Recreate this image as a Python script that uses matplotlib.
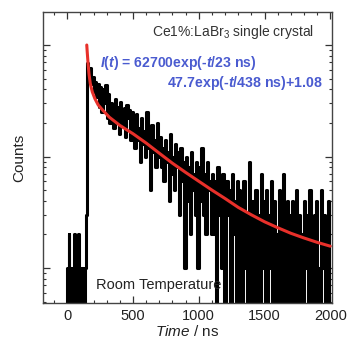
import numpy as np
import matplotlib
matplotlib.use("Agg")
import matplotlib.pyplot as plt
from matplotlib.ticker import MultipleLocator, LogLocator, NullFormatter

plt.rcParams['font.family'] = ['Liberation Sans', 'DejaVu Sans']
plt.rcParams['mathtext.fontset'] = 'custom'
plt.rcParams['mathtext.rm'] = 'Liberation Sans'
plt.rcParams['mathtext.it'] = 'Liberation Sans:italic'
plt.rcParams['mathtext.bf'] = 'Liberation Sans:bold'
plt.rcParams['mathtext.bfit'] = 'Liberation Sans:italic:bold'

# ---- data ----
# pre-pulse channels, 5 ns wide, starting at t = 0 ns
pre_width = 5
pre_counts = [1, 0, 2, 0, 1, 0, 1, 0, 1, 0, 2, 0, 1, 0, 1, 0, 1, 2, 0, 1,
              0, 1, 0, 1, 0, 1, 0, 1, 3, 3]
# decay channels, 10 ns wide, starting at t = 150 ns
decay_start = 150
decay_width = 10
decay_counts = [
    69, 58, 62, 45, 52, 38, 47, 34, 45, 28, 42, 25, 40, 30, 44,
    22, 36, 20, 30, 26, 18, 33, 21, 28, 16, 31, 24, 19, 27, 15, 29, 22, 26, 14, 25,
    20, 12, 24, 14, 18, 9, 22, 13, 17, 10, 25, 12, 16, 5, 19, 11, 14, 8, 20, 10,
    15, 8, 12, 6, 14, 9, 11, 4, 16, 7, 10, 5, 13, 8, 11, 3, 12, 6, 9, 1,
    10, 4, 8, 2, 11, 5, 7, 3, 9, 1, 8, 4, 12, 3, 7, 2, 9, 5, 6, 2,
    7, 2, 6, 0, 8, 3, 5, 1, 7, 0, 0, 6, 3, 5, 0, 7, 2, 4, 0, 6,
    5, 0, 4, 0, 6, 1, 3, 0, 9, 0, 4, 2, 0, 5, 0, 3, 0, 7, 1, 4,
    0, 5, 0, 3, 1, 6, 0, 4, 0, 2, 0, 5, 2, 0, 7, 0, 2, 4, 0, 3,
    0, 4, 1, 0, 5, 0, 3, 0, 2, 0, 4, 1, 3, 0, 5, 0, 1, 0, 3, 4,
    0, 1, 0, 5, 1, 3, 0, 2, 4, 0,
]
# fitted curve
fit_t = [148, 152, 158, 165, 175, 190, 210, 235, 270, 320, 400, 500, 600, 700,
         800, 900, 1000, 1100, 1200, 1300, 1400, 1500, 1600, 1700, 1800, 1900, 2000]
fit_counts = [100, 85, 68, 55, 45, 38, 33, 29, 26, 22.5, 19, 16, 13.2, 10.7,
              8.7, 7.2, 6.0, 5.0, 4.2, 3.5, 3.0, 2.6, 2.3, 2.05, 1.86, 1.7, 1.57]

xticks = [0, 500, 1000, 1500, 2000]

# ---- build channel edges ----
pre_edges = [i * pre_width for i in range(len(pre_counts))]
decay_edges = [decay_start + i * decay_width for i in range(len(decay_counts) + 1)]
edges = [-10] + pre_edges + decay_edges
vals = [0] + pre_counts + decay_counts
floor = 0.05
vals_plot = [v if v > 0 else floor for v in vals]
vals_plot = vals_plot + [vals_plot[-1]]

fig = plt.figure(figsize=(3.51, 3.39), dpi=100)
ax = fig.add_axes([0.1217, 0.106, 0.823, 0.8595])

ax.step(edges, vals_plot, where='post', color='black', lw=2.2, zorder=2)
ax.plot(fit_t, fit_counts, color='#e8302a', lw=2.2, zorder=3, solid_capstyle='round')

ax.set_yscale('log')
ax.set_xlim(-187, 2010)
ax.set_ylim(0.485, 199)

ax.set_xticks(xticks)
ax.xaxis.set_minor_locator(MultipleLocator(100))
ax.yaxis.set_major_locator(LogLocator(base=10))
ax.yaxis.set_minor_locator(LogLocator(base=10, subs=np.arange(2, 10)))
ax.yaxis.set_major_formatter(NullFormatter())
ax.yaxis.set_minor_formatter(NullFormatter())
ax.tick_params(which='both', direction='in', top=True, right=True, color='#333333')
ax.tick_params(which='major', length=5, width=0.9, labelsize=10.5, pad=4, labelcolor='#222222')
ax.tick_params(which='minor', length=2.5, width=0.8)
for s in ax.spines.values():
    s.set_color('#444444')
    s.set_linewidth(1.0)
    s.set_zorder(5)

ax.set_xlabel(r'$\mathit{Time}$ / ns', fontsize=11, color='#222222', labelpad=1)
ax.set_ylabel('Counts', fontsize=11, color='#222222', labelpad=8)

ax.text(0.94, 0.93, r'Ce1%:LaBr$_3$ single crystal', transform=ax.transAxes,
        ha='right', va='center', fontsize=10, color='#333333')
ax.text(0.198, 0.823, r'$\mathbfit{I}$($\mathbfit{t}$) = 62700exp(-$\mathbfit{t}$/23 ns)',
        transform=ax.transAxes, ha='left', va='center', fontsize=10.1,
        color='#4a5bd0', fontweight='bold')
ax.text(0.97, 0.755, r'47.7exp(-$\mathbfit{t}$/438 ns)+1.08',
        transform=ax.transAxes, ha='right', va='center', fontsize=10.2,
        color='#4a5bd0', fontweight='bold')
ax.text(0.185, 0.063, 'Room Temperature', transform=ax.transAxes,
        ha='left', va='center', fontsize=10.5, color='#222222', zorder=4)

fig.savefig('out.png', dpi=100)
